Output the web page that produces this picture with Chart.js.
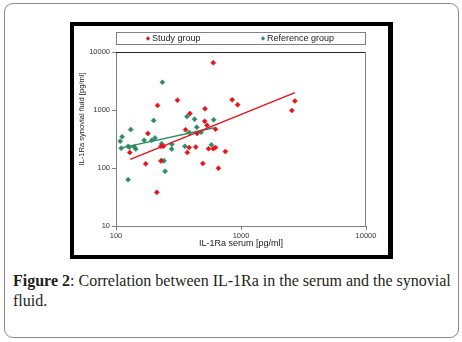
<!DOCTYPE html>
<html>
<head>
  <title>IL-1Ra serum vs synovial fluid</title>
  <script src="https://cdn.jsdelivr.net/npm/chart.js"></script>
  <style>
    body {
      margin: 0;
      background: #fff;
      font-family: 'Liberation Sans', Arial, sans-serif;
    }

    .card {
      position: absolute;
      left: 4px;
      top: 3px;
      width: 455px;
      height: 335px;
      box-sizing: border-box;
      border: 1.5px solid #8a8a8a;
      border-radius: 9px;
    }

    /* black frame round the chart */
    .frame {
      position: absolute;
      left: 70px;
      top: 22px;
      width: 314px;
      height: 229px;
      border: 4px solid #000;
      border-right-width: 5px;
      background: #fff;
    }

    .caption {
      position: absolute;
      left: 13px;
      top: 271px;
      width: 446px;
      font-family: 'Liberation Serif', 'Times New Roman', serif;
      font-size: 16px;
      line-height: 20px;
      color: #231f20;
    }
  </style>
</head>
<body>
  <div class="card"></div>
  <div class="frame">
    <canvas id="corrChart"></canvas>
  </div>
  <div class="caption"><b>Figure 2</b>: Correlation between IL-1Ra in the serum and the synovial fluid.</div>

  <script>
    // axis ticks
    const xTicks = [100, 1000, 10000];
    const yTicks = [10, 100, 1000, 10000];

    const seriesNames = ['Study group', 'Reference group'];
    const axisTitles = ['IL-1Ra serum [pg/ml]', 'IL-1Ra synovial fluid [pg/ml]'];

    // study group (serum, synovial fluid) in pg/ml
    const studySerum = [600, 310, 215, 850, 940, 2700, 2550, 390, 515, 512, 535, 625, 360, 180, 445,
                        385, 435, 550, 600, 625, 750, 129, 372, 229, 240, 229, 173, 495, 660, 212];
    const studyFluid = [6500, 1470, 1200, 1500, 1230, 1430, 980, 870, 1050, 640, 545, 465, 455, 395, 395,
                        225, 230, 215, 215, 225, 192, 185, 185, 237, 237, 132, 118, 120, 99, 38];

    // reference group
    const refSerum = [235, 200, 131, 112, 108, 370, 425, 443, 605, 386, 480, 205, 168, 193, 232,
                      280, 125, 144, 279, 356, 580, 232, 242, 247, 125, 110, 128, 140];
    const refFluid = [3000, 660, 460, 345, 290, 770, 695, 505, 680, 410, 415, 330, 300, 300, 262,
                      258, 237, 213, 212, 237, 252, 135, 133, 88, 63, 220, 228, 232];

    // trend lines, end points
    const studyTrendSerum = [130, 2700];
    const studyTrendFluid = [141, 1990];
    const refTrendSerum = [108, 610];
    const refTrendFluid = [220, 495];

    const RED = '#e5141c';
    const GREEN = '#2e8c62';
    const FONT = "'Liberation Sans', Arial, sans-serif";

    const toPoints = (xs, ys) => xs.map((x, i) => ({ x: x, y: ys[i] }));

    function drawDiamond(ctx, x, y, r, color) {
      ctx.beginPath();
      ctx.moveTo(x, y - r);
      ctx.lineTo(x + r, y);
      ctx.lineTo(x, y + r);
      ctx.lineTo(x - r, y);
      ctx.closePath();
      ctx.fillStyle = color;
      ctx.fill();
    }

    // legend box, plot frame and the y title
    const chartDecor = {
      id: 'chartDecor',
      afterDraw(chart) {
        const { ctx, chartArea: a } = chart;
        ctx.save();

        // plot area top + right edge
        ctx.lineWidth = 1;
        ctx.strokeStyle = '#222';
        ctx.beginPath();
        ctx.moveTo(a.left, a.top + 0.5);
        ctx.lineTo(a.right, a.top + 0.5);
        ctx.stroke();
        ctx.strokeStyle = '#808080';
        ctx.beginPath();
        ctx.moveTo(a.right - 0.5, a.top);
        ctx.lineTo(a.right - 0.5, a.bottom);
        ctx.stroke();

        // legend
        ctx.strokeStyle = '#808080';
        ctx.strokeRect(a.left + 0.5, 6.5, a.right - a.left - 1, 12);
        const colors = [RED, GREEN];
        const offsets = [32, 147];
        ctx.font = '9px ' + FONT;
        ctx.textBaseline = 'middle';
        ctx.textAlign = 'left';
        seriesNames.forEach((name, i) => {
          const mx = a.left + offsets[i];
          drawDiamond(ctx, mx, 12.5, 2.2, colors[i]);
          ctx.fillStyle = '#222';
          ctx.fillText(name, mx + 4, 12.5);
        });

        // y axis title
        ctx.translate(8, 93);
        ctx.rotate(-Math.PI / 2);
        ctx.font = '7.6px ' + FONT;
        ctx.textAlign = 'center';
        ctx.fillStyle = '#222';
        ctx.fillText(axisTitles[1], 0, 0);
        ctx.restore();
      }
    };

    const pointStyleOpts = {
      type: 'scatter',
      pointStyle: 'rectRot',
      pointRadius: 2.5,
      pointBorderWidth: 0.6,
      pointHoverRadius: 2.5
    };

    new Chart(document.getElementById('corrChart'), {
      type: 'scatter',
      data: {
        datasets: [
          Object.assign({
            label: seriesNames[0],
            data: toPoints(studySerum, studyFluid),
            backgroundColor: RED,
            borderColor: RED,
            order: 1
          }, pointStyleOpts),
          Object.assign({
            label: seriesNames[1],
            data: toPoints(refSerum, refFluid),
            backgroundColor: GREEN,
            borderColor: GREEN,
            order: 2
          }, pointStyleOpts),
          {
            type: 'line',
            label: 'Study trend',
            data: toPoints(studyTrendSerum, studyTrendFluid),
            borderColor: RED,
            borderWidth: 1.5,
            pointRadius: 0,
            fill: false,
            order: 0
          },
          {
            type: 'line',
            label: 'Reference trend',
            data: toPoints(refTrendSerum, refTrendFluid),
            borderColor: GREEN,
            borderWidth: 1.5,
            pointRadius: 0,
            fill: false,
            order: 0
          }
        ]
      },
      options: {
        responsive: true,
        maintainAspectRatio: false,
        animation: false,
        layout: {
          padding: { left: 0, right: 22, top: 26, bottom: 6 }
        },
        plugins: {
          legend: { display: false },
          tooltip: { enabled: false }
        },
        scales: {
          x: {
            type: 'logarithmic',
            min: 100,
            max: 10000,
            afterBuildTicks: (scale) => { scale.ticks = xTicks.map(v => ({ value: v })); },
            afterFit: (scale) => { scale.height = 23; },
            border: { color: '#808080', width: 1 },
            grid: { drawOnChartArea: false, drawTicks: true, tickLength: 4, color: '#808080' },
            ticks: {
              autoSkip: false,
              maxRotation: 0,
              padding: 1,
              color: '#333',
              font: { family: FONT, size: 7.5 },
              callback: (v) => String(v)
            },
            title: {
              display: true,
              text: axisTitles[0],
              color: '#222',
              padding: { top: 0, bottom: 0 },
              font: { family: FONT, size: 9 }
            }
          },
          y: {
            type: 'logarithmic',
            min: 10,
            max: 10000,
            afterBuildTicks: (scale) => { scale.ticks = yTicks.map(v => ({ value: v })); },
            afterFit: (scale) => { scale.width = 42; },
            border: { color: '#808080', width: 1 },
            grid: { drawOnChartArea: false, drawTicks: true, tickLength: 4, color: '#808080' },
            ticks: {
              autoSkip: false,
              padding: 2,
              color: '#333',
              font: { family: FONT, size: 7.5 },
              callback: (v) => String(v)
            }
          }
        }
      },
      plugins: [chartDecor]
    });
  </script>
</body>
</html>
